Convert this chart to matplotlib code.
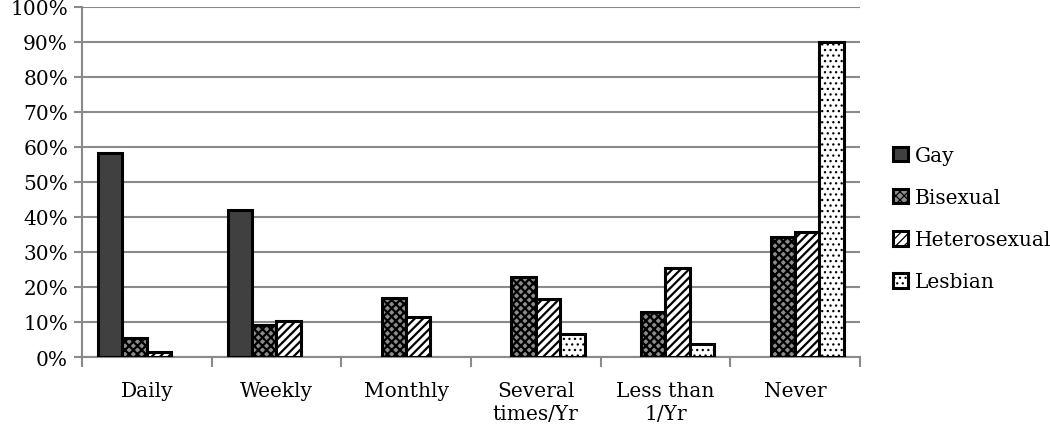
import numpy as np
import matplotlib.pyplot as plt
from matplotlib.ticker import PercentFormatter

categories = ["Daily", "Weekly", "Monthly", "Several\ntimes/Yr", "Less than\n1/Yr", "Never"]
series = ["Gay", "Bisexual", "Heterosexual", "Lesbian"]
gay = [58.4, 42.0, 0, 0, 0, 0]
bisexual = [5.3, 9.2, 16.8, 22.9, 12.8, 34.3]
heterosexual = [1.4, 10.3, 11.4, 16.6, 25.4, 35.7]
lesbian = [0, 0, 0, 6.5, 3.7, 90.0]

plt.rcParams['font.family'] = ['DejaVu Serif']

fig = plt.figure(figsize=(10.5, 4.35), dpi=100)
ax = fig.add_axes([0.078, 0.177, 0.741, 0.805])

x = np.arange(len(categories))
w = 0.188
styles = [
    dict(facecolor="#404040", hatch=None),
    dict(facecolor="#8c8c8c", hatch="xxxx"),
    dict(facecolor="white", hatch="////"),
    dict(facecolor="white", hatch="..."),
]
hatch_lw = [1.6, 1.6, 1.6, 0.9]
values = [gay, bisexual, heterosexual, lesbian]
for i, (name, vals, st) in enumerate(zip(series, values, styles)):
    plt.rcParams['hatch.linewidth'] = hatch_lw[i]
    vals = np.array(vals, dtype=float)
    pos = x + (i - 1.5) * w
    mask = vals > 0
    ax.bar(pos[mask], vals[mask], width=w, edgecolor="black", linewidth=2.2,
           label=name, zorder=3, **st)

ax.set_xlim(-0.5, len(categories) - 0.5)
ax.set_ylim(0, 100)
ax.set_yticks(np.arange(0, 101, 10))
ax.yaxis.set_major_formatter(PercentFormatter(decimals=0))
ax.grid(axis="y", color="#8a8a8a", linewidth=1.5, zorder=0)
ax.set_axisbelow(True)

ax.set_xticks(x)
ax.set_xticklabels(categories, fontsize=14.5, linespacing=1.3)
ax.set_xticks(np.arange(-0.5, len(categories)), minor=True)
ax.tick_params(axis="x", which="major", length=0, pad=17)
ax.tick_params(axis="x", which="minor", length=7, width=1.5, color="#8a8a8a")
ax.tick_params(axis="y", length=6, width=1.5, color="#8a8a8a", labelsize=14.5, pad=4)

for s in ["top", "right"]:
    ax.spines[s].set_visible(False)
for s in ["left", "bottom"]:
    ax.spines[s].set_color("#8a8a8a")
    ax.spines[s].set_linewidth(1.5)

ax.legend(loc="center left", bbox_to_anchor=(1.042, 0.395), frameon=False,
          fontsize=14.5, handlelength=0.75, handleheight=0.75, labelspacing=1.15,
          handletextpad=0.35, borderpad=0, borderaxespad=0)

fig.savefig("out.png", dpi=100)
